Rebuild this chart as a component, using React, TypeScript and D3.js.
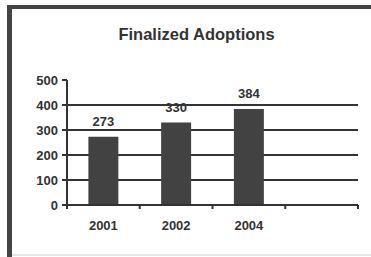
import React from "react";
import * as d3 from "d3";

const title = "Finalized Adoptions";
const categories = ["2001", "2002", "2004", ""];
const values = [273, 330, 384];
const yTicks = [0, 100, 200, 300, 400, 500];
const gridValues = [100, 200, 300, 400];

export default function App() {
  const W = 371, H = 257;
  const left = 67, right = 358, top = 80, bottom = 205;
  const x = d3.scaleBand<string>().domain(categories).range([left, right]).paddingInner(0.588).paddingOuter(0.294);
  const y = d3.scaleLinear().domain([0, 500]).range([bottom, top]);
  const step = x.step();
  const font = "'Liberation Sans', Arial, sans-serif";
  const ink = "#333";
  return (
    <svg width={W} height={H} style={{ position: "absolute", left: 0, top: 0, background: "#fff" }}>
      {/* frame */}
      <rect x={0} y={0} width={W} height={H} fill="#fff" />
      <line x1={7} x2={W} y1={7} y2={7} stroke="#444" strokeWidth={4} />
      <line x1={9.5} x2={9.5} y1={5} y2={H} stroke="#444" strokeWidth={5} />
      <line x1={12} x2={W} y1={255} y2={255} stroke="#ddd" strokeWidth={1.5} />
      <text x={196.5} y={40} textAnchor="middle" fontFamily={font} fontWeight="bold" fontSize={16.5} fill={ink}>{title}</text>
      {/* value labels */}
      {values.map((v, i) => (
        <text key={"l" + i} x={x(categories[i])! + x.bandwidth() / 2} y={y(v) - 11} textAnchor="middle" fontFamily={font} fontWeight="bold" fontSize={13} fill={ink}>{v}</text>
      ))}
      {/* gridlines */}
      {gridValues.map((g) => (
        <line key={"g" + g} x1={left} x2={right} y1={y(g)} y2={y(g)} stroke="#333" strokeWidth={2} />
      ))}
      {/* bars */}
      {values.map((v, i) => (
        <rect key={"b" + i} x={x(categories[i])} y={y(v)} width={x.bandwidth()} height={bottom - y(v)} fill="#424242" />
      ))}
      {/* y axis */}
      <line x1={left} x2={left} y1={top} y2={bottom + 4} stroke="#333" strokeWidth={2} />
      {yTicks.map((t) => (
        <g key={"t" + t}>
          <line x1={left - 5} x2={left} y1={y(t)} y2={y(t)} stroke="#333" strokeWidth={2} />
          <text x={58} y={y(t) + 4.5} textAnchor="end" fontFamily={font} fontWeight="bold" fontSize={13} fill={ink}>{t}</text>
        </g>
      ))}
      {/* x axis */}
      <line x1={left} x2={right} y1={bottom} y2={bottom} stroke="#333" strokeWidth={2} />
      {d3.range(categories.length + 1).map((i) => (
        <line key={"xt" + i} x1={left + i * step} x2={left + i * step} y1={bottom} y2={bottom + 4} stroke="#333" strokeWidth={2} />
      ))}
      {categories.map((c) => (
        <text key={"x" + c} x={x(c)! + x.bandwidth() / 2} y={229.5} textAnchor="middle" fontFamily={font} fontWeight="bold" fontSize={13} fill={ink}>{c}</text>
      ))}
    </svg>
  );
}
